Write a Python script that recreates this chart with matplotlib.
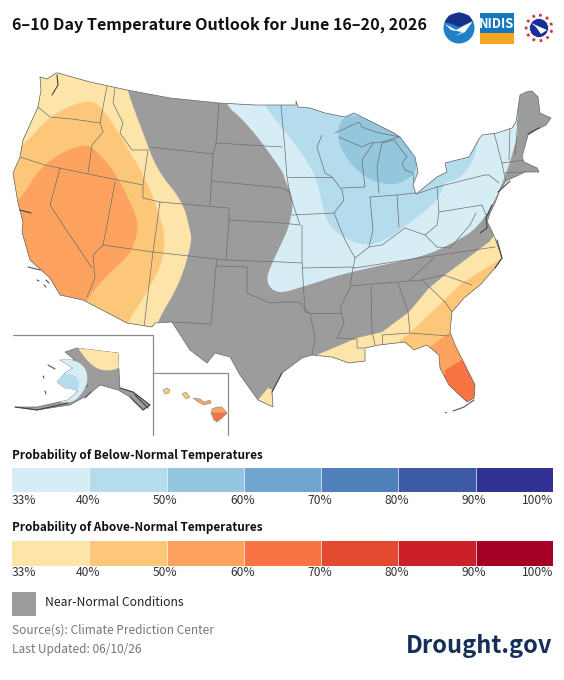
import matplotlib
matplotlib.use("Agg")
import matplotlib.pyplot as plt
from matplotlib.patches import Polygon, Circle, Rectangle, PathPatch
from matplotlib.path import Path

FONT = ["Noto Sans CJK JP", "Noto Sans", "DejaVu Sans"]
plt.rcParams["font.family"] = FONT

TITLE = "6–10 Day Temperature Outlook for June 16–20, 2026"
BELOW_TITLE = "Probability of Below-Normal Temperatures"
ABOVE_TITLE = "Probability of Above-Normal Temperatures"
NEAR_LABEL = "Near-Normal Conditions"
SOURCE = "Source(s): Climate Prediction Center"
UPDATED = "Last Updated: 06/10/26"
BRAND = "Drought.gov"
LEGEND_TICKS = ["33%", "40%", "50%", "60%", "70%", "80%", "90%", "100%"]
BELOW_COLORS = ["#D7EDF6", "#B5DCEC", "#94C6DE", "#6FA5CE", "#5080BA", "#3D5BA5", "#323194"]
ABOVE_COLORS = ["#FDE4A8", "#FDC77A", "#FDA35F", "#F87442", "#E44A30", "#CB2027", "#A50026"]
GRAY = "#9C9C9C"

US_OUTLINE = [(40,77),(47,79),(56,73),(58,73),(90,82),(127,90),(170,98),(219,103),(255,105),(296,105),(296,101),(298,107),
 (310,108),(325,113),(345,117),(354,113),(394,133),(400,137),(415,157),(418,172),(413,185),(416,194),(437,177),(447,172),
 (445,163),(469,157),(479,139),(482,135),(497,133),(512,128),(516,122),(520,95),(526,92),(532,91),(538,97),(540,113),(551,118),
 (546,125),(536,130),(528,135),(522,157),(524,162),(537,168),(539,172),(525,172),(506,181),(500,190),(495,203),(490,213),
 (487,222),(489,225),(495,238),(502,258),(495,268),(480,285),(464,298),(452,312),(450,332),(455,345),(475,385),(474,398),
 (467,402),(449,385),(440,368),(439,355),(427,345),(414,350),(405,342),(379,345),(365,348),(365,361),(349,363),(332,357),
 (312,355),(302,358),(282,373),(272,392),(273,407),(258,400),(240,375),(230,357),(215,353),(207,363),(190,350),(172,322),
 (155,323),(152,327),(127,323),(83,300),(60,295),(50,278),(30,260),(22,232),(23,222),(18,203),(13,173),(20,157),(23,140),
 (38,107),(41,90)]

ABOVE_W_33 = [(0,60),(127,80),(127,90),(143,133),(157,170),(183,202),(190,230),(192,242),(180,283),(157,322),(150,345),(0,345)]
ABOVE_W_40 = [(-20,170),(20,150),(50,115),(87,99),(102,107),(120,135),(148,183),(160,217),(165,235),(163,262),(147,292),(127,323),(120,345),(-20,345)]
ABOVE_W_50 = [(-20,240),(18,203),(43,163),(82,143),(97,150),(120,180),(137,217),(138,232),(130,255),(110,272),(88,297),(80,320),(-20,320)]
ABOVE_SE_33 = [(282,378),(300,365),(312,357),(357,338),(382,332),(409,312),(429,288),(445,275),(489,242),(497,232),(530,260),(500,420),(282,420)]
ABOVE_TX_33 = [(258,400),(268,388),(285,395),(280,415),(258,415)]
ABOVE_SE_40 = [(400,340),(410,333),(442,302),(462,283),(502,258),(530,270),(500,420),(400,380)]
ABOVE_SE_50 = [(430,347),(450,332),(480,330),(490,420),(440,420)]
ABOVE_SE_60 = [(445,370),(465,358),(490,380),(490,420),(440,420)]
BELOW_33 = [(223,103),(247,123),(282,170),(285,180),(294,200),(289,227),(282,242),(268,272),(267,282),(272,290),(282,293),
 (302,287),(349,272),(422,257),(449,245),(479,228),(502,187),(519,133),(517,118),(520,70),(223,70)]
BELOW_40 = [(263,104),(282,128),(305,157),(317,180),(324,213),(329,225),(342,237),(364,246),(382,242),(402,229),(439,200),
 (444,182),(459,180),(474,160),(479,138),(484,110),(263,90)]
BELOW_50 = [(354,113),(399,133),(415,157),(417,170),(405,182),(389,185),(369,180),(349,163),(337,140),(340,120)]
SMOOTH_CONTOURS = [ABOVE_W_33, ABOVE_W_40, ABOVE_W_50, BELOW_33, BELOW_40, BELOW_50]

STATE_LINES = [
 [(38,107),(50,117),(72,119),(100,123)],[(100,123),(103,132),(92,145),(88,173)],[(107,86),(100,123)],
 [(115,88),(113,103),(123,123),(120,133),(132,150),(148,150)],[(148,150),(143,185),(143,198)],
 [(20,157),(45,165),(88,174),(143,185)],[(143,198),(160,202),(153,252),(144,327)],[(160,202),(228,208)],
 [(150,147),(213,154)],[(219,103),(216,143),(213,154),(210,205)],[(216,143),(282,147)],[(212,181),(282,188),(290,192)],
 [(229,208),(229,220),(282,223),(300,225)],[(229,220),(226,260)],[(103,245),(153,252),(225,260),(282,262),(302,263)],
 [(115,182),(107,225),(103,245),(93,255),(95,278),(87,297)],[(60,168),(50,205),(63,225),(92,268)],
 [(217,260),(216,267),(211,324),(172,322)],[(216,266),(247,267),(247,293),(270,303),(282,302),(299,302),(309,313)],
 [(302,225),(302,262),(305,312)],[(281,105),(285,150),(287,177),(290,195),(300,225)],[(287,177),(332,177)],
 [(322,135),(317,147),(325,173),(332,177),(342,190),(344,200),(334,213),(345,240),(355,258),(353,268)],
 [(292,215),(334,213)],[(342,188),(365,187),(362,160),(374,142)],[(370,197),(373,230),(369,247)],
 [(355,258),(369,247),(382,245),(405,228),(425,235),(437,247)],[(397,195),(399,227)],[(370,197),(397,195),(415,193)],
 [(437,187),(439,212),(437,225),(425,235)],[(439,212),(482,205)],[(437,187),(485,175),(489,175),(499,183)],
 [(494,133),(502,163),(504,173),(506,181)],[(510,127),(509,160)],[(502,163),(525,160)],[(504,173),(525,172)],
 [(518,120),(515,155)],[(355,268),(419,258),(495,247)],[(350,286),(422,280)],[(435,257),(410,280)],
 [(422,280),(444,275),(472,285)],[(422,280),(445,302),(452,312)],[(398,283),(408,312),(410,333),(449,336)],
 [(382,335),(410,333)],[(382,335),(382,343)],[(371,286),(372,332),(375,345)],[(337,338),(357,339),(357,348),(364,348)],
 [(353,268),(350,288),(340,308),(344,323),(337,338)],[(310,313),(340,313)],[(305,312),(310,313),(315,338),(312,355)],
 [(302,268),(350,267),(355,268)],[(437,247),(450,248),(470,225),(476,213)],[(482,205),(486,215),(490,213)],
 [(335,133),(359,122),(362,127),(375,132),(400,137)],[(339,137),(362,147),(370,143),(382,142),(399,137)],
 [(379,193),(377,167),(382,143),(394,140),(407,157),(402,163),(405,170),(413,173),(415,190)],[(416,194),(437,187)],
]
DARK_COAST = [[(57,75),(58,85),(52,95)],[(492,205),(486,218),(487,228),(480,233)],
 [(497,240),(502,258),(495,268)],[(539,128),(533,131),(528,134)],[(510,181),(498,192)],
 [(20,210),(31,213)],[(272,392),(282,373)]]
ISLANDS = [[(28,267),(40,270)],[(37,280),(39,281)],[(46,280),(49,283)],[(44,285),(46,287)],[(474,400),(464,407),(453,411)],[(445,412),(445.5,412)]]

ALASKA = [(65,352),(77,348),(118,353),(120,388),(133,392),(150,405),(143,410),(130,397),(118,390),(100,385),(88,395),(70,405),
 (37,410),(15,407),(37,407),(68,400),(82,388),(88,385),(80,392),(70,388),(65,388),(57,382),(65,373),(73,368),(60,360),(75,360)]
ALASKA_33_ABOVE = [(70,335),(125,340),(125,367),(103,372),(87,362)]
ALASKA_33_BELOW = [(55,358),(75,360),(85,367),(88,378),(85,390),(72,404),(50,400),(50,380)]
ALASKA_40_BELOW = [(68,373),(78,377),(80,388),(72,394),(52,390),(55,376)]
ALASKA_SE = [[(120,388),(133,392),(150,405),(143,410),(130,397)],[(135,395),(148,408)],[(15,407),(37,410),(68,403)]]
ALASKA_ISLES = [[(48,365),(55,369)],[(43,376),(44,378)],[(45,391),(46,394)],[(85,398),(91,392)]]
HAWAII_TOP = [(212,409),(217,407),(222,407),(227,413),(214,416),(211,413)]
HAWAII_BOTTOM = [(211,413),(227,413),(222,418),(217,422),(214,420)]
HAWAII_MAUI = [(193,398),(200,399),(204,402),(210,400),(211,403),(204,405),(198,402)]
HAWAII_OAHU = [(182,394),(186,392),(190,397),(186,399)]
HAWAII_KAUAI = [(163,390),(167,388),(170,390),(169,393),(165,394)]
ALASKA_FRAME = [(13,335),(153,335),(153,435)]
HAWAII_FRAME = [(153,373),(228,373),(228,435)]

fig = plt.figure(figsize=(5.64, 6.80), dpi=100)
ax = fig.add_axes([0, 0, 1, 1])
ax.set_xlim(0, 564)
ax.set_ylim(680, 0)
ax.axis("off")

def chaikin(points, n=2):
    pts = list(points)
    for _ in range(n):
        out = []
        for i, (x0, y0) in enumerate(pts):
            x1, y1 = pts[(i + 1) % len(pts)]
            out.append((0.75 * x0 + 0.25 * x1, 0.75 * y0 + 0.25 * y1))
            out.append((0.25 * x0 + 0.75 * x1, 0.25 * y0 + 0.75 * y1))
        pts = out
    return pts

def shape(points, clip=None, color=GRAY, z=2, edge="none"):
    p = Polygon(points, closed=True, facecolor=color, edgecolor=edge, lw=0.4, zorder=z)
    ax.add_patch(p)
    if clip is not None:
        p.set_clip_path(clip)
    return p

def line(points, color="#555555", lw=0.7, z=5, clip=None):
    xs, ys = zip(*points)
    l, = ax.plot(xs, ys, color=color, lw=lw, zorder=z, solid_capstyle="round", solid_joinstyle="round")
    if clip is not None:
        l.set_clip_path(clip)

us = Polygon(US_OUTLINE, closed=True, facecolor=GRAY, edgecolor="none", zorder=2)
ax.add_patch(us)
for pts, col in [(ABOVE_W_33, ABOVE_COLORS[0]), (ABOVE_W_40, ABOVE_COLORS[1]), (ABOVE_W_50, ABOVE_COLORS[2]),
                 (ABOVE_SE_33, ABOVE_COLORS[0]), (ABOVE_TX_33, ABOVE_COLORS[0]), (ABOVE_SE_40, ABOVE_COLORS[1]),
                 (ABOVE_SE_50, ABOVE_COLORS[2]), (ABOVE_SE_60, ABOVE_COLORS[3]),
                 (BELOW_33, BELOW_COLORS[0]), (BELOW_40, BELOW_COLORS[1]), (BELOW_50, BELOW_COLORS[2])]:
    smooth = any(pts is c for c in SMOOTH_CONTOURS)
    shape(chaikin(pts) if smooth else pts, clip=us, color=col, z=3)
line(US_OUTLINE + US_OUTLINE[:1], color="#666666", lw=0.5, z=5)
for s in STATE_LINES:
    line(s, color="#6e6e6e", lw=0.5, clip=us)
for s in DARK_COAST:
    line(s, color="#444444", lw=0.8, z=6)
for s in ISLANDS:
    line(s, color="#555555", lw=0.8)

ak = Polygon(ALASKA, closed=True, facecolor=GRAY, edgecolor="#555555", lw=0.4, zorder=2)
ax.add_patch(ak)
shape(chaikin(ALASKA_33_BELOW), clip=ak, color=BELOW_COLORS[0], z=3)
shape(chaikin(ALASKA_40_BELOW), clip=ak, color=BELOW_COLORS[1], z=3)
shape(chaikin(ALASKA_33_ABOVE), clip=ak, color=ABOVE_COLORS[0], z=3)
for s in ALASKA_SE:
    line(s, color="#444444", lw=0.8)
for s in ALASKA_ISLES:
    line(s, color="#555555", lw=0.8)

shape(HAWAII_TOP, color=ABOVE_COLORS[2], z=3, edge="#888888")
shape(HAWAII_BOTTOM, color=ABOVE_COLORS[3], z=3, edge="#888888")
shape(HAWAII_MAUI, color=ABOVE_COLORS[2], z=3, edge="#888888")
shape(HAWAII_OAHU, color=ABOVE_COLORS[1], z=3, edge="#888888")
shape(HAWAII_KAUAI, color=ABOVE_COLORS[1], z=3, edge="#888888")
line(ALASKA_FRAME, color="#8c8c8c", lw=0.9, z=1)
line(HAWAII_FRAME, color="#8c8c8c", lw=0.9, z=1)

ax.text(12, 24.5, TITLE, fontsize=11.62, fontweight="bold", color="#111111", va="center", ha="left")

# logos
ax.add_patch(Circle((459, 28), 15.5, facecolor="#1f80c8", zorder=3))
top = Path([(444.5, 22), (449, 15.5), (459, 12.5), (469, 15.5), (473.5, 22), (466, 24), (459, 27), (452, 24), (444.5, 22)])
ax.add_patch(PathPatch(top, facecolor="#17318a", edgecolor="none", zorder=4))
wing = Path([(445, 24), (456, 30), (473, 21), (465, 32), (455, 36), (462, 32), (451, 30), (445, 24)])
ax.add_patch(PathPatch(wing, facecolor="white", edgecolor="none", zorder=4))
ax.add_patch(Rectangle((480, 13), 34, 21, facecolor="#1577be", zorder=3))
ax.add_patch(Rectangle((480, 33), 34, 10.5, facecolor="#f3a81f", zorder=3))
ax.text(497, 23.5, "NIDIS", fontsize=9.3, fontweight="bold", color="white", ha="center", va="center", zorder=5)
ax.add_patch(Circle((539, 28), 12.8, facecolor="white", edgecolor="#d23a3a", lw=2.0, ls=":", zorder=3))
ax.add_patch(Circle((539, 28), 9.5, facecolor="#1a2f96", edgecolor="white", lw=0.5, zorder=4))
ax.add_patch(Polygon([(531, 23), (547, 30), (541, 34), (536, 27)], closed=True, facecolor="white", zorder=5))

# legends
X0, X1 = 12, 553
def colorbar(title, colors, title_y, y0, y1, tick_y):
    ax.text(X0, title_y, title, fontsize=8.5, fontweight="bold", color="#111111", va="center", ha="left")
    w = (X1 - X0) / len(colors)
    for i, c in enumerate(colors):
        ax.add_patch(Rectangle((X0 + i * w, y0), w, y1 - y0, facecolor=c, edgecolor="none", zorder=2))
        if i:
            ax.plot([X0 + i * w] * 2, [y0, y1], color="white", lw=0.6, alpha=0.8, zorder=3)
    for i, t in enumerate(LEGEND_TICKS):
        ha = "left" if i == 0 else ("right" if i == len(LEGEND_TICKS) - 1 else "center")
        x = X0 + i * w
        if 0 < i < len(LEGEND_TICKS) - 1:
            x -= 1.5
        ax.text(x, tick_y, t, fontsize=8.7, color="#333333", va="center", ha=ha)

colorbar(BELOW_TITLE, BELOW_COLORS, 455, 468, 492, 500)
colorbar(ABOVE_TITLE, ABOVE_COLORS, 528, 541, 566, 573)
ax.add_patch(Rectangle((12, 592), 24, 24, facecolor=GRAY, zorder=2))
ax.text(45, 603, NEAR_LABEL, fontsize=8.75, color="#222222", va="center", ha="left")
ax.text(12, 630, SOURCE, fontsize=8.55, color="#777777", va="center", ha="left")
ax.text(12, 649, UPDATED, fontsize=8.55, color="#777777", va="center", ha="left")
ax.text(552, 646, BRAND, fontsize=17, fontweight="bold", color="#14305a", va="center", ha="right")

fig.savefig("out.png", dpi=100)
